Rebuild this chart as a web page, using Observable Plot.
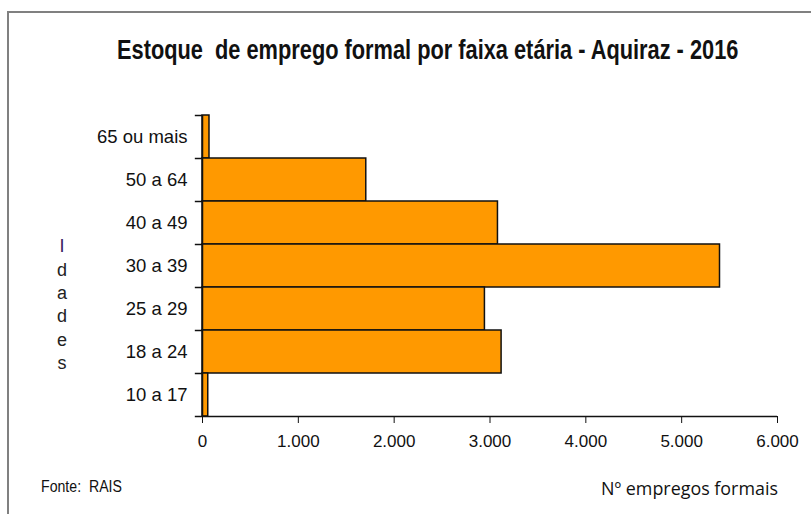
<!DOCTYPE html>
<html>
<head>
<meta charset="utf-8">
<script src="https://cdn.jsdelivr.net/npm/d3@7"></script>
<script src="https://cdn.jsdelivr.net/npm/@observablehq/plot@0.6"></script>
<style>
  html, body { margin: 0; padding: 0; background: white; }
  #chart { width: 811px; height: 514px; }
  g[aria-label="y-axis tick label"], g[aria-label="y-axis tick label"] text { font-size: 18.5px; }
</style>
</head>
<body>
<div id="chart"></div>
<script>
const categories = ["65 ou mais", "50 a 64", "40 a 49", "30 a 39", "25 a 29", "18 a 24", "10 a 17"];
const values = [73, 1709, 3083, 5400, 2947, 3121, 60];
const xTicks = [0, 1000, 2000, 3000, 4000, 5000, 6000];
const titleText = "Estoque  de emprego formal por faixa etária - Aquiraz - 2016";
const yTitle = "Idades";
const xTitle = "Nº empregos formais";
const sourceText = "Fonte:  RAIS";

const data = categories.map((c, i) => ({cat: c, value: values[i]}));
const ptBR = d3.formatLocale({decimal: ",", thousands: ".", grouping: [3], currency: ["R$", ""]});
const fmt = ptBR.format(",.0f");

const half = 301 / categories.length / 2;

const chart = Plot.plot({
  width: 811,
  height: 514,
  marginLeft: 202,
  marginRight: 34,
  marginTop: 115,
  marginBottom: 98,
  style: {fontFamily: "'Liberation Sans', Arial, sans-serif", fontSize: "17px", color: "#111", background: "white"},
  x: {domain: [0, 6000], ticks: xTicks, tickFormat: fmt, tickSize: 7, tickPadding: 11, label: null},
  y: {domain: categories, padding: 0, tickSize: 0, tickPadding: 15, label: null},
  marks: [
    Plot.barX(data, {x: "value", y: "cat", fill: "#FF9900", stroke: "#111", strokeWidth: 1.5}),
    Plot.ruleY(categories, {y: d => d, dy: -half, x1: -75, x2: 0, stroke: "#111", strokeWidth: 1.5}),
    Plot.ruleY([categories[categories.length - 1]], {y: d => d, dy: half, x1: -75, x2: 6000, stroke: "#111", strokeWidth: 1.5}),
    Plot.ruleX([0], {stroke: "#111", strokeWidth: 1.5})
  ]
});

document.getElementById("chart").appendChild(chart);

const svg = d3.select(chart);
svg.style("font-size", "17px");

svg.append("path")
  .attr("d", "M8,514V12H811")
  .attr("fill", "none")
  .attr("stroke", "#808080")
  .attr("stroke-width", 2);

// Horizontally condensed text fitted to a target width (left edge x0)
function fitText(txt, x0, y, targetW, size, weight, family, color) {
  const t = svg.append("text")
    .attr("x", 0).attr("y", 0)
    .attr("text-anchor", "start")
    .style("font-family", family)
    .style("font-weight", weight)
    .style("font-size", size + "px")
    .attr("fill", color)
    .text(txt);
  const w = t.node().getComputedTextLength() || targetW;
  const s = targetW / w;
  t.attr("transform", `translate(${x0},${y}) scale(${s},1)`);
  return t;
}

fitText(titleText, 117, 59, 622, 27, "bold", "'Liberation Sans', Arial, sans-serif", "#111");
fitText(sourceText, 41, 492, 81, 17, "normal", "'Liberation Sans', Arial, sans-serif", "#111");
fitText(xTitle, 601, 495, 177, 18, "normal", "'Open Sans', 'Noto Sans', sans-serif", "#111");

const letters = yTitle.split("");
const letterY = [252, 276, 299, 322, 346, 369];
letters.forEach((ch, i) => {
  svg.append("text")
    .attr("x", 62).attr("y", letterY[i])
    .attr("text-anchor", "middle")
    .style("font-family", "'Liberation Sans', Arial, sans-serif")
    .style("font-size", "18px")
    .attr("fill", i === 0 ? "#3a2060" : "#222")
    .text(ch);
});
</script>
</body>
</html>
